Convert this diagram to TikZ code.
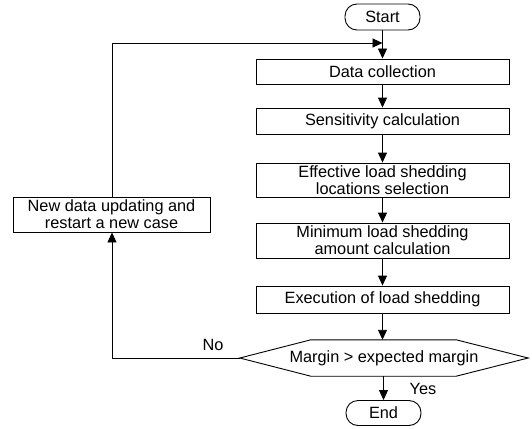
\documentclass[tikz,border=0pt]{standalone}
\usepackage{fontspec}
\setmainfont{Liberation Sans}
\usetikzlibrary{arrows.meta,calc}
\begin{document}
\begin{tikzpicture}[x=1pt,y=-1pt,
  every node/.style={font=\fontsize{16.3}{17}\selectfont, inner sep=0pt},
  procbox/.style={draw, line width=0.9pt, minimum width=253, align=center},
  term/.style={draw, line width=0.9pt, rounded corners=12pt, minimum width=75, minimum height=26},
  conn/.style={line width=0.9pt, -{Triangle[length=10pt,width=9pt]}},
  plain/.style={line width=0.9pt}]
\useasboundingbox (0,0) rectangle (532,428);
\node[term] (start) at (382.5,17) {Start};
\node[procbox, minimum height=25] (data) at (382.5,71.5) {Data collection};
\node[procbox, minimum height=26] (sens) at (382.5,121) {Sensitivity calculation};
\node[procbox, minimum height=34] (eff) at (382.5,180) {Effective load shedding\\locations selection};
\node[procbox, minimum height=35] (mini) at (382.5,240.5) {Minimum load shedding\\amount calculation};
\node[procbox, minimum height=27] (exec) at (382.5,299.5) {Execution of load shedding};
\node[minimum width=288, minimum height=36] (dec) at (384,358) {Margin > expected margin};
\draw[plain] (dec.west) -- ($(dec.north west)+(71,0)$) -- ($(dec.north east)+(-72,0)$) -- (dec.east)
  -- ($(dec.south east)+(-72,0)$) -- ($(dec.south west)+(71,0)$) -- cycle;
\node[term, minimum height=25] (end) at (383.5,413) {End};
\node[draw, line width=0.9pt, minimum width=197, minimum height=35, align=center] (new) at (111.5,214.5) {New data updating and\\restart a new case};
\coordinate (merge) at (382.5,43);
\coordinate (cornerTL) at (112,43);
\coordinate (cornerBL) at (112,358);
\node (no) at (213,345) {No};
\node (yes) at (423,389) {Yes};
\draw[conn] (start) -- (data);
\draw[conn] (data) -- (sens);
\draw[conn] (sens) -- (eff);
\draw[conn] (eff) -- (mini);
\draw[conn] (mini) -- (exec);
\draw[conn] (exec) -- (exec.south |- dec.north);
\draw[conn] (dec.south -| end.north) -- (end);
\draw[conn] (dec.west) -- (cornerBL) -- (new.south -| cornerBL);
\draw[conn] (new.north -| cornerTL) -- (cornerTL) -- (merge);
\end{tikzpicture}
\end{document}
